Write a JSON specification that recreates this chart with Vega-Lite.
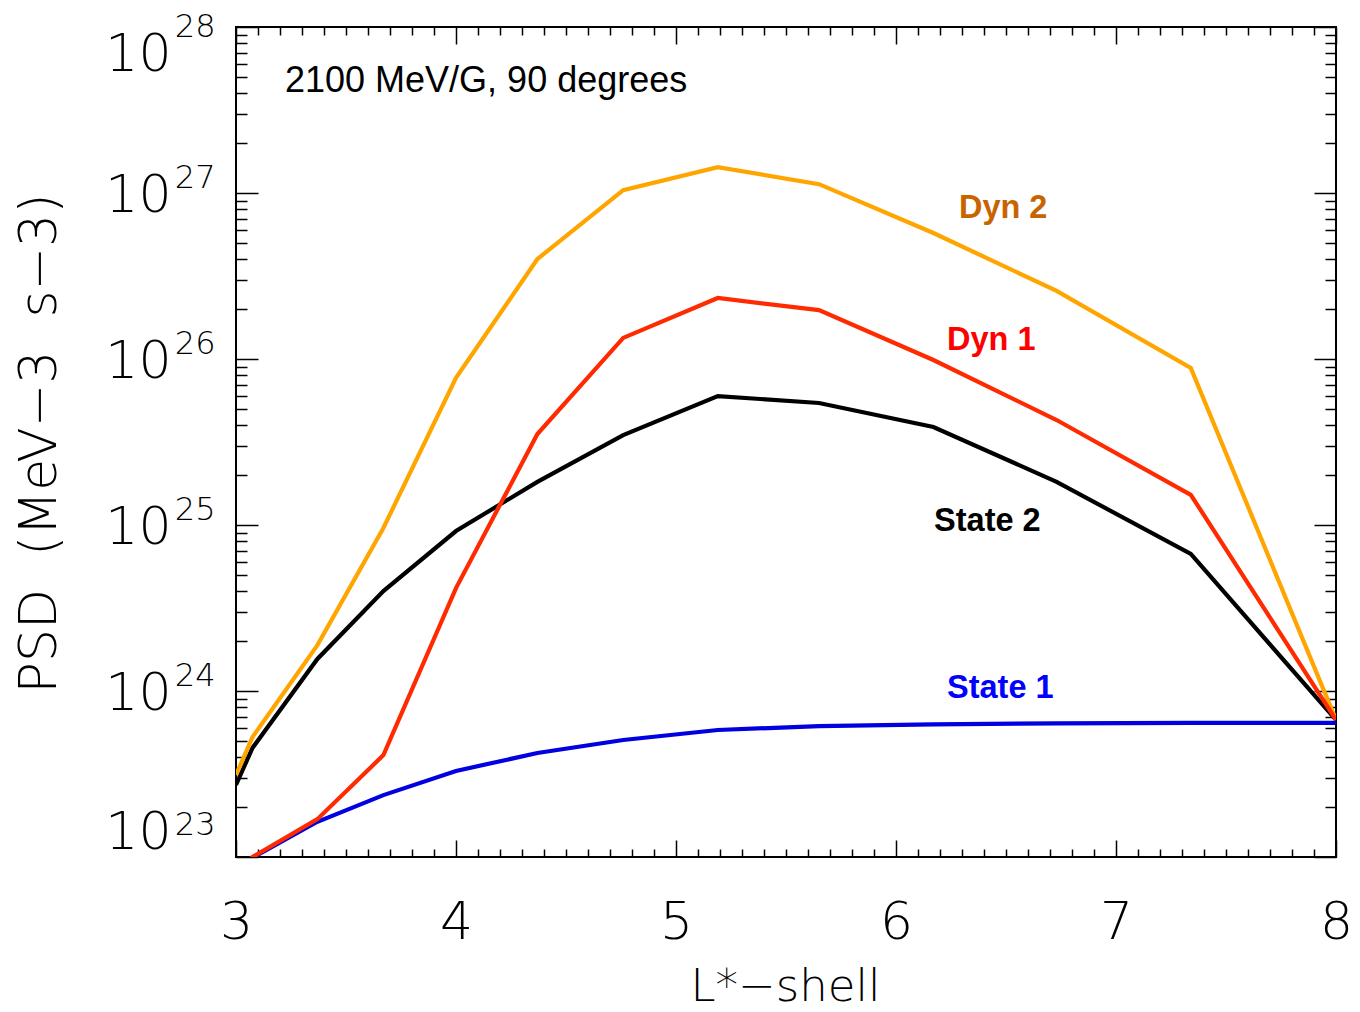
{
  "$schema": "https://vega.github.io/schema/vega-lite/v6.json",
  "width": 1100,
  "height": 830,
  "autosize": "none",
  "padding": {"left": 236, "top": 27, "right": 24, "bottom": 155},
  "background": "white",
  "config": {
    "view": {"stroke": "#000000", "strokeWidth": 2},
    "axis": {"domain": false, "grid": false, "tickColor": "#000000", "tickWidth": 1.5, "labelColor": "#000000", "titleColor": "#000000", "labelFont": "DejaVu Sans", "labelFontWeight": 200, "titleFont": "DejaVu Sans", "titleFontWeight": 200, "labelOverlap": false}
  },
  "data": {
    "values": [
      {"series": "State 1", "L": 3.0, "psd": 8e22},
      {"series": "State 1", "L": 3.075, "psd": 0.99e23},
      {"series": "State 1", "L": 3.37, "psd": 1.63e23},
      {"series": "State 1", "L": 3.67, "psd": 2.36e23},
      {"series": "State 1", "L": 4.0, "psd": 3.3e23},
      {"series": "State 1", "L": 4.37, "psd": 4.23e23},
      {"series": "State 1", "L": 4.76, "psd": 5.07e23},
      {"series": "State 1", "L": 5.19, "psd": 5.82e23},
      {"series": "State 1", "L": 5.65, "psd": 6.15e23},
      {"series": "State 1", "L": 6.17, "psd": 6.3e23},
      {"series": "State 1", "L": 6.73, "psd": 6.38e23},
      {"series": "State 1", "L": 7.34, "psd": 6.42e23},
      {"series": "State 1", "L": 8.0, "psd": 6.42e23},
      {"series": "State 2", "L": 3.0, "psd": 2.72e23},
      {"series": "State 2", "L": 3.075, "psd": 4.54e23},
      {"series": "State 2", "L": 3.37, "psd": 1.56e24},
      {"series": "State 2", "L": 3.67, "psd": 4.0e24},
      {"series": "State 2", "L": 4.0, "psd": 9.2e24},
      {"series": "State 2", "L": 4.37, "psd": 1.82e25},
      {"series": "State 2", "L": 4.76, "psd": 3.48e25},
      {"series": "State 2", "L": 5.19, "psd": 5.98e25},
      {"series": "State 2", "L": 5.65, "psd": 5.43e25},
      {"series": "State 2", "L": 6.17, "psd": 3.89e25},
      {"series": "State 2", "L": 6.73, "psd": 1.82e25},
      {"series": "State 2", "L": 7.34, "psd": 6.69e24},
      {"series": "State 2", "L": 8.0, "psd": 6.7e23},
      {"series": "Dyn 2", "L": 3.0, "psd": 3.12e23},
      {"series": "Dyn 2", "L": 3.075, "psd": 5.28e23},
      {"series": "Dyn 2", "L": 3.37, "psd": 1.89e24},
      {"series": "Dyn 2", "L": 3.67, "psd": 9.6e24},
      {"series": "Dyn 2", "L": 4.0, "psd": 7.7e25},
      {"series": "Dyn 2", "L": 4.37, "psd": 4.0e26},
      {"series": "Dyn 2", "L": 4.76, "psd": 1.04e27},
      {"series": "Dyn 2", "L": 5.19, "psd": 1.43e27},
      {"series": "Dyn 2", "L": 5.65, "psd": 1.13e27},
      {"series": "Dyn 2", "L": 6.17, "psd": 5.74e26},
      {"series": "Dyn 2", "L": 6.73, "psd": 2.57e26},
      {"series": "Dyn 2", "L": 7.34, "psd": 8.83e25},
      {"series": "Dyn 2", "L": 8.0, "psd": 6.7e23},
      {"series": "Dyn 1", "L": 3.0, "psd": 8e22},
      {"series": "Dyn 1", "L": 3.075, "psd": 1.0e23},
      {"series": "Dyn 1", "L": 3.37, "psd": 1.69e23},
      {"series": "Dyn 1", "L": 3.67, "psd": 4.11e23},
      {"series": "Dyn 1", "L": 4.0, "psd": 4.17e24},
      {"series": "Dyn 1", "L": 4.37, "psd": 3.53e25},
      {"series": "Dyn 1", "L": 4.76, "psd": 1.34e26},
      {"series": "Dyn 1", "L": 5.19, "psd": 2.33e26},
      {"series": "Dyn 1", "L": 5.65, "psd": 1.97e26},
      {"series": "Dyn 1", "L": 6.17, "psd": 9.86e25},
      {"series": "Dyn 1", "L": 6.73, "psd": 4.29e25},
      {"series": "Dyn 1", "L": 7.34, "psd": 1.52e25},
      {"series": "Dyn 1", "L": 8.0, "psd": 6.7e23}
    ]
  },
  "resolve": {"scale": {"color": "independent"}, "axis": {"x": "independent", "y": "independent"}},
  "layer": [
    {
      "mark": {"type": "line", "strokeWidth": 4.2, "clip": true},
      "encoding": {
        "x": {"field": "L", "type": "quantitative", "scale": {"domain": [3, 8], "nice": false, "zero": false},
          "axis": {"orient": "bottom", "values": [3, 4, 5, 6, 7, 8], "tickSize": -17, "labels": false, "title": null}},
        "y": {"field": "psd", "type": "quantitative", "scale": {"type": "log", "domain": [1e23, 1e28], "nice": false},
          "axis": {"orient": "left", "values": [1e23, 1e24, 1e25, 1e26, 1e27, 1e28], "tickSize": -22, "labels": false, "title": null}},
        "color": {"field": "series", "type": "nominal", "legend": null,
          "scale": {"domain": ["State 1", "State 2", "Dyn 2", "Dyn 1"], "range": ["#0000E0", "#000000", "#FFA500", "#FF2A00"]}}
      }
    },
    {
      "mark": {"type": "point", "opacity": 0},
      "encoding": {
        "x": {"field": "L", "type": "quantitative", "scale": {"domain": [3, 8], "nice": false, "zero": false},
          "axis": {"orient": "bottom", "values": [3.1,3.2,3.3,3.4,3.5,3.6,3.7,3.8,3.9,4.1,4.2,4.3,4.4,4.5,4.6,4.7,4.8,4.9,5.1,5.2,5.3,5.4,5.5,5.6,5.7,5.8,5.9,6.1,6.2,6.3,6.4,6.5,6.6,6.7,6.8,6.9,7.1,7.2,7.3,7.4,7.5,7.6,7.7,7.8,7.9], "tickSize": -8, "labels": false, "title": null}},
        "y": {"field": "psd", "type": "quantitative", "scale": {"type": "log", "domain": [1e23, 1e28], "nice": false},
          "axis": {"orient": "left", "values": [2e23,3e23,4e23,5e23,6e23,7e23,8e23,9e23,2e24,3e24,4e24,5e24,6e24,7e24,8e24,9e24,2e25,3e25,4e25,5e25,6e25,7e25,8e25,9e25,2e26,3e26,4e26,5e26,6e26,7e26,8e26,9e26,2e27,3e27,4e27,5e27,6e27,7e27,8e27,9e27], "tickSize": -11, "labels": false, "title": null}}
      }
    },
    {
      "mark": {"type": "point", "opacity": 0},
      "encoding": {
        "x": {"field": "L", "type": "quantitative", "scale": {"domain": [3, 8], "nice": false, "zero": false},
          "axis": {"orient": "top", "values": [3, 4, 5, 6, 7, 8], "tickSize": -17, "labels": false, "title": null}},
        "y": {"field": "psd", "type": "quantitative", "scale": {"type": "log", "domain": [1e23, 1e28], "nice": false},
          "axis": {"orient": "right", "values": [1e23, 1e24, 1e25, 1e26, 1e27, 1e28], "tickSize": -22, "labels": false, "title": null}}
      }
    },
    {
      "mark": {"type": "point", "opacity": 0},
      "encoding": {
        "x": {"field": "L", "type": "quantitative", "scale": {"domain": [3, 8], "nice": false, "zero": false},
          "axis": {"orient": "top", "values": [3.1,3.2,3.3,3.4,3.5,3.6,3.7,3.8,3.9,4.1,4.2,4.3,4.4,4.5,4.6,4.7,4.8,4.9,5.1,5.2,5.3,5.4,5.5,5.6,5.7,5.8,5.9,6.1,6.2,6.3,6.4,6.5,6.6,6.7,6.8,6.9,7.1,7.2,7.3,7.4,7.5,7.6,7.7,7.8,7.9], "tickSize": -8, "labels": false, "title": null}},
        "y": {"field": "psd", "type": "quantitative", "scale": {"type": "log", "domain": [1e23, 1e28], "nice": false},
          "axis": {"orient": "right", "values": [2e23,3e23,4e23,5e23,6e23,7e23,8e23,9e23,2e24,3e24,4e24,5e24,6e24,7e24,8e24,9e24,2e25,3e25,4e25,5e25,6e25,7e25,8e25,9e25,2e26,3e26,4e26,5e26,6e26,7e26,8e26,9e26,2e27,3e27,4e27,5e27,6e27,7e27,8e27,9e27], "tickSize": -11, "labels": false, "title": null}}
      }
    },
    {
      "mark": {"type": "point", "opacity": 0},
      "encoding": {
        "x": {"field": "L", "type": "quantitative", "scale": {"domain": [3, 8], "nice": false, "zero": false},
          "axis": {"orient": "bottom", "values": [3, 4, 5, 6, 7, 8], "ticks": false, "labelFontSize": 52, "labelPadding": 81, "labelBaseline": "alphabetic", "labelFlush": false,
            "title": "L*−shell", "titleFontSize": 45, "titleX": 549, "titleY": 143, "titleBaseline": "alphabetic", "titleAlign": "center"}},
        "y": {"field": "psd", "type": "quantitative", "scale": {"type": "log", "domain": [1e23, 1e28], "nice": false},
          "axis": {"orient": "left", "values": [1e23, 1e24, 1e25, 1e26, 1e27, 1e28], "ticks": false, "labelExpr": "'10'", "labelFontSize": 52, "labelPadding": 65, "labelAlign": "right", "labelFlush": true, "labelOffset": 2,
            "title": "PSD\u00a0\u00a0(MeV−3\u00a0\u00a0s−3)", "titleFontSize": 52, "titleAngle": -90, "titleX": -181, "titleY": 416, "titleBaseline": "alphabetic", "titleAlign": "center"}}
      }
    },
    {
      "mark": {"type": "point", "opacity": 0},
      "encoding": {
        "x": {"field": "L", "type": "quantitative", "scale": {"domain": [3, 8], "nice": false, "zero": false}, "axis": null},
        "y": {"field": "psd", "type": "quantitative", "scale": {"type": "log", "domain": [1e23, 1e28], "nice": false},
          "axis": {"orient": "left", "values": [1e23, 1e24, 1e25, 1e26, 1e27, 1e28], "ticks": false, "labelExpr": "toString(round(log(datum.value)/LN10))", "labelFontSize": 32, "labelPadding": 21, "labelAlign": "right", "labelFlush": true, "labelOffset": -16, "title": null}}
      }
    },
    {
      "data": {"values": [
        {"label": "Dyn 2", "L": 6.286, "psd": 7.07e26},
        {"label": "Dyn 1", "L": 6.232, "psd": 1.13e26},
        {"label": "State 2", "L": 6.173, "psd": 9.2e24},
        {"label": "State 1", "L": 6.232, "psd": 9.08e23}
      ]},
      "mark": {"type": "text", "font": "Liberation Sans", "fontWeight": "bold", "fontSize": 32.5, "align": "left", "baseline": "alphabetic"},
      "encoding": {
        "x": {"field": "L", "type": "quantitative", "scale": {"domain": [3, 8], "nice": false, "zero": false}, "axis": null},
        "y": {"field": "psd", "type": "quantitative", "scale": {"type": "log", "domain": [1e23, 1e28], "nice": false}, "axis": null},
        "text": {"field": "label"},
        "color": {"field": "label", "type": "nominal", "legend": null,
          "scale": {"domain": ["Dyn 2", "Dyn 1", "State 2", "State 1"], "range": ["#C86400", "#FF0000", "#000000", "#0000FF"]}}
      }
    },
    {
      "data": {"values": [{"note": "2100 MeV/G, 90 degrees", "L": 3.2227, "psd": 4.06e27}]},
      "mark": {"type": "text", "font": "Liberation Sans", "fontSize": 36, "align": "left", "baseline": "alphabetic", "color": "#000000"},
      "encoding": {
        "x": {"field": "L", "type": "quantitative", "scale": {"domain": [3, 8], "nice": false, "zero": false}, "axis": null},
        "y": {"field": "psd", "type": "quantitative", "scale": {"type": "log", "domain": [1e23, 1e28], "nice": false}, "axis": null},
        "text": {"field": "note"}
      }
    }
  ]
}
